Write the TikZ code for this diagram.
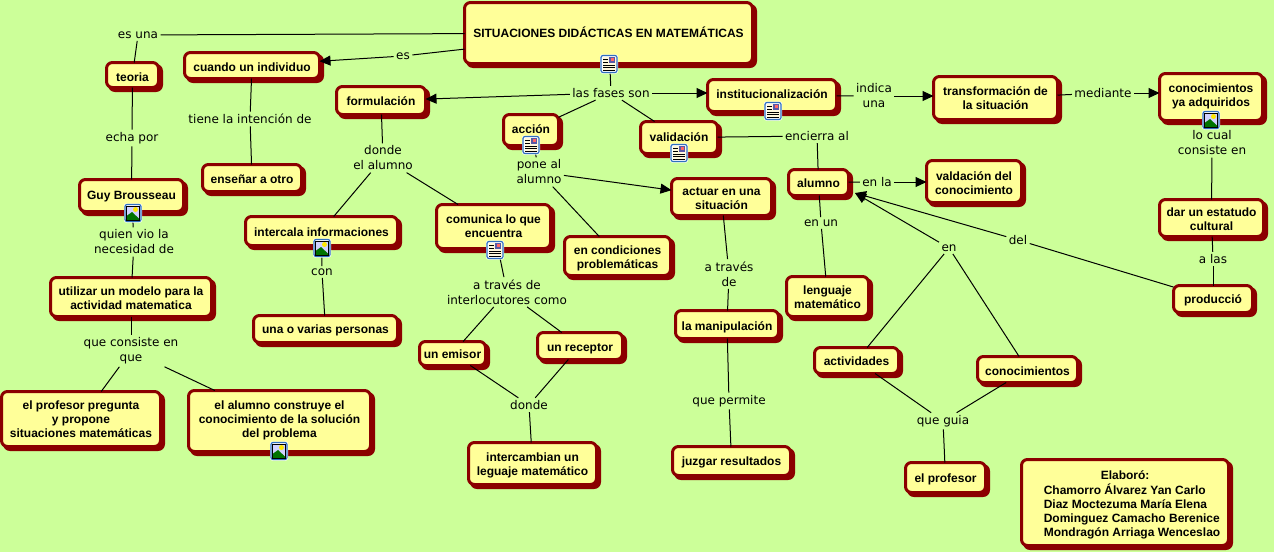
\documentclass[tikz,border=0pt]{standalone}
\usepackage{fontspec}
\setmainfont{Liberation Sans}
\newfontfamily\linkfont{DejaVu Sans}
\usetikzlibrary{arrows.meta}
\definecolor{bgc}{HTML}{CCFF99}
\definecolor{boxc}{HTML}{FFFF99}
\definecolor{edgec}{HTML}{8B0000}
\definecolor{iconb}{HTML}{2F6FC0}
\definecolor{iconp}{HTML}{FFF8DC}
\tikzset{
  x=1pt,y=-1pt,
  concept/.style={draw=edgec,fill=boxc,line width=3pt,rounded corners=6pt,align=center,
    font=\fontsize{12}{14}\selectfont\bfseries,text=black,inner sep=0pt,outer sep=0pt},
  linkp/.style={align=center,font=\linkfont\fontsize{12}{15}\selectfont,text=black,inner sep=2.5pt,outer sep=0pt},
  conn/.style={draw=black,line width=1pt},
  arr/.style={conn,-{Triangle[length=11pt,width=10pt]}},
}
% [text moved down by], name, x0,y0,x1,y1 (outer extent including the 3px shadow), text
\newcommand{\cpt}[7][2.5]{%
  \pgfmathsetmacro{\boxcx}{(#3+#5-3)/2}\pgfmathsetmacro{\boxcy}{(#4+#6-3)/2}%
  \pgfmathsetmacro{\boxw}{#5-#3-6}\pgfmathsetmacro{\boxh}{#6-#4-6}%
  \pgfmathsetmacro{\boxr}{-#1-3}%
  \fill[edgec,rounded corners=7pt] (#3+3,#4+3) rectangle (#5,#6);%
  \node[concept,minimum width=\boxw pt,minimum height=\boxh pt] (#2) at (\boxcx,\boxcy)
    {\raisebox{\boxr pt}[0pt][0pt]{\begin{tabular}{@{}c@{}}#7\end{tabular}}};}
\newcommand{\iconframe}[2]{%
  \fill[white,rounded corners=2pt] (#1-9,#2-9.5) rectangle (#1+9,#2+9.5);
  \draw[iconb,line width=1.2pt,rounded corners=2pt] (#1-8,#2-8.5) rectangle (#1+8,#2+8.5);}
\newcommand{\docicon}[2]{\iconframe{#1}{#2}%
  \fill[iconp] (#1-6.5,#2-7) rectangle (#1+6.5,#2+7);
  \draw[black,line width=0.8pt] (#1-6,#2-2) -- (#1-1,#2-2) (#1-6,#2-5) -- (#1-1,#2-5)
    (#1-6,#2+1) -- (#1+6,#2+1) (#1-6,#2+3.5) -- (#1+6,#2+3.5) (#1-6,#2+6) -- (#1+6,#2+6);
  \fill[gray!70!blue] (#1,#2-7) rectangle (#1+6,#2-1);
  \fill[red!60] (#1+2,#2-6) rectangle (#1+4.5,#2-3.5);}
\newcommand{\imgicon}[2]{\iconframe{#1}{#2}%
  \fill[blue!18!white] (#1-6.5,#2-7) rectangle (#1+6.5,#2+7);
  \fill[yellow!90!orange] (#1+2.5,#2-3.5) circle (2.5);
  \fill[green!45!black] (#1-6.5,#2+7) -- (#1-6.5,#2+3) -- (#1-1,#2-1) -- (#1+6.5,#2+6) -- (#1+6.5,#2+7) -- cycle;
  \draw[black,line width=0.7pt] (#1-6.5,#2-7) rectangle (#1+6.5,#2+7);}
\begin{document}
\begin{tikzpicture}
\fill[bgc] (0,0) rectangle (1274,552);
\useasboundingbox (0,0) rectangle (1274,552);
% concepts
\cpt[1]{main}{463}{1}{757}{68}{SITUACIONES DIDÁCTICAS EN MATEMÁTICAS}
\cpt[4]{teoria}{105}{61}{163}{92}{teoria}
\cpt[3]{indiv}{183}{51}{324}{83}{cuando un individuo}
\cpt[2]{form}{335}{85}{430}{119}{formulación}
\cpt[1]{accion}{502}{113}{563}{150}{acción}
\cpt[1]{valid}{639}{120}{722}{158}{validación}
\cpt[0]{inst}{706}{78}{841}{116}{institucionalización}
\cpt[2]{transf}{932}{75}{1062}{124}{transformación de\\la situación}
\cpt[0]{conoc}{1158}{72}{1267}{125}{conocimientos\\ya adquiridos}
\cpt[3]{ensenar}{201}{163}{306}{196}{enseñar a otro}
\cpt[1]{guy}{78}{178}{188}{216}{Guy Brousseau}
\cpt[3]{interc}{244}{215}{402}{250}{intercala informaciones}
\cpt[1]{comun}{435}{203}{555}{253}{comunica lo que\\encuentra}
\cpt[3]{condic}{563}{235}{675}{280}{en condiciones\\problemáticas}
\cpt[3]{actuar}{670}{177}{776}{220}{actuar en una\\situación}
\cpt[2]{alumno}{787}{168}{853}{200}{alumno}
\cpt[3]{valdac}{925}{159}{1026}{207}{valdación del\\conocimiento}
\cpt[3]{dar}{1158}{198}{1268}{241}{dar un estatudo\\cultural}
\cpt[3]{utiliz}{49}{276}{216}{321}{utilizar un modelo para la\\actividad matematica}
\cpt[2]{varias}{252}{314}{402}{347}{una o varias personas}
\cpt[2]{lenguaje}{785}{275}{873}{321}{lenguaje\\matemático}
\cpt[2]{produc}{1172}{284}{1257}{317}{producció}
\cpt[2]{emisor}{418}{340}{490}{370}{un emisor}
\cpt[3]{recept}{536}{331}{627}{364}{un receptor}
\cpt[3]{manip}{674}{309}{783}{343}{la manipulación}
\cpt[2]{activ}{813}{346}{903}{378}{actividades}
\cpt[3]{conocb}{976}{355}{1082}{387}{conocimientos}
\cpt[2]{profp}{0}{390}{165}{451}{el profesor pregunta\\y propone\hspace{3pt}\\situaciones matemáticas}
\cpt[0]{alumc}{187}{389}{375}{456}{el alumno construye el\\conocimiento de la solución\\del problema}
\cpt[2]{interb}{467}{441}{601}{489}{intercambian un\\leguaje matemático}
\cpt[2]{juzgar}{671}{445}{795}{480}{juzgar resultados}
\cpt[2]{elprof}{904}{461}{990}{497}{el profesor}
\cpt[3]{elab}{1020}{458}{1233}{550}{\hspace*{14pt}\begin{tabular}{@{}l@{}}\hspace*{57pt}Elaboró:\\Chamorro Álvarez Yan Carlo\\Diaz Moctezuma María Elena\\Dominguez Camacho Berenice\\Mondragón Arriaga Wenceslao\end{tabular}}
% linking phrases
\node[linkp] (lesuna) at (138,35) {es una};
\node[linkp] (les) at (403,56) {es};
\node[linkp] (lfases) at (611,93) {las fases son};
\node[linkp] (lindica) at (874,96) {indica\\una};
\node[linkp] (lmed) at (1103,93) {mediante};
\node[linkp] (llocual) at (1212,143) {lo cual\\consiste en};
\node[linkp] (lecha) at (132,138) {echa por};
\node[linkp] (ltiene) at (250,119) {tiene la intención de};
\node[linkp] (ldonde) at (383,158) {donde\\el alumno};
\node[linkp] (lpone) at (539,172) {pone al\\alumno};
\node[linkp] (lencierra) at (817,136) {encierra al};
\node[linkp] (lenla) at (877,182) {en la};
\node[linkp] (lenun) at (821,223) {en un};
\node[linkp] (latrav) at (729,274) {a través\\de};
\node[linkp] (len) at (949,248) {en};
\node[linkp] (ldel) at (1018,240) {del};
\node[linkp] (lalas) at (1213,259) {a las};
\node[linkp] (lquien) at (134,242) {quien vio la\\necesidad de};
\node[linkp] (lcon) at (322,272) {con};
\node[linkp] (linterl) at (507,292) {a través de\\interlocutores como};
\node[linkp] (lconsis) at (131,351) {que consiste en\\que};
\node[linkp] (ldonde2) at (529,405) {donde};
\node[linkp] (lperm) at (729,401) {que permite};
\node[linkp] (lguia) at (943,421) {que guia};
\coordinate (alumtip) at (855,193);
% connectors
\draw[conn] (main) -- (lesuna);
\draw[conn] (lesuna) -- (teoria);
\draw[conn] (main) -- (les);
\draw[arr] (les) -- (indiv);
\draw[conn] (main) -- (lfases);
\draw[arr] (lfases) -- (form);
\draw[arr] (lfases) -- (lfases -| inst.west);
\draw[conn] (lfases) -- (accion);
\draw[conn] (lfases) -- (valid);
\draw[conn] (inst) -- (lindica);
\draw[arr] (lindica) -- (lindica -| transf.west);
\draw[conn] (transf) -- (lmed);
\draw[arr] (lmed) -- (lmed -| conoc.west);
\draw[conn] (conoc) -- (llocual);
\draw[conn] (llocual) -- (dar);
\draw[conn] (dar) -- (lalas);
\draw[conn] (lalas) -- (produc);
\draw[conn] (produc) -- (ldel);
\draw[arr] (ldel) -- (alumtip);
\draw[conn] (teoria) -- (lecha);
\draw[conn] (lecha) -- (guy);
\draw[conn] (guy) -- (lquien);
\draw[conn] (lquien) -- (utiliz);
\draw[conn] (utiliz) -- (lconsis);
\draw[conn] (lconsis) -- (profp);
\draw[conn] (lconsis) -- (alumc);
\draw[conn] (indiv) -- (ltiene);
\draw[conn] (ltiene) -- (ensenar);
\draw[conn] (form) -- (ldonde);
\draw[conn] (ldonde) -- (interc);
\draw[conn] (ldonde) -- (comun);
\draw[conn] (interc) -- (lcon);
\draw[conn] (lcon) -- (varias);
\draw[conn] (comun) -- (linterl);
\draw[conn] (linterl) -- (emisor);
\draw[conn] (linterl) -- (recept);
\draw[conn] (emisor) -- (ldonde2);
\draw[conn] (recept) -- (ldonde2);
\draw[conn] (ldonde2) -- (interb);
\draw[conn] (accion) -- (lpone);
\draw[arr] (lpone) -- (actuar);
\draw[conn] (lpone) -- (condic);
\draw[conn] (valid) -- (lencierra);
\draw[conn] (lencierra) -- (alumno);
\draw[conn] (alumno) -- (lenla);
\draw[arr] (lenla) -- (lenla -| valdac.west);
\draw[conn] (alumno) -- (lenun);
\draw[conn] (lenun) -- (lenguaje);
\draw[arr] (len) -- (alumtip);
\draw[conn] (len) -- (activ);
\draw[conn] (len) -- (conocb);
\draw[conn] (activ) -- (lguia);
\draw[conn] (conocb) -- (lguia);
\draw[conn] (lguia) -- (elprof);
\draw[conn] (actuar) -- (latrav);
\draw[conn] (latrav) -- (manip);
\draw[conn] (manip) -- (lperm);
\draw[conn] (lperm) -- (juzgar);
% icons
\docicon{609}{64}
\docicon{773}{111}
\docicon{531}{145}
\docicon{679}{153}
\docicon{495}{250}
\imgicon{1211}{120}
\imgicon{133}{213}
\imgicon{322}{248}
\imgicon{279}{451}
\end{tikzpicture}
\end{document}
